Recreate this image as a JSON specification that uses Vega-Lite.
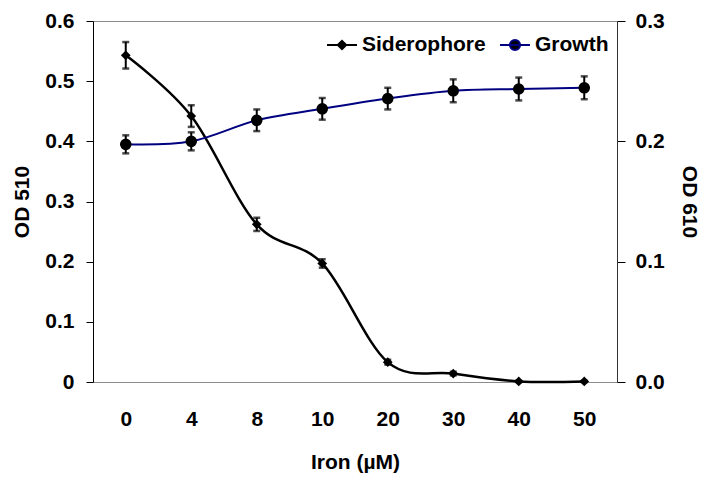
{
  "$schema": "https://vega.github.io/schema/vega-lite/v6.json",
  "width": 524,
  "height": 361,
  "autosize": {"type": "none"},
  "padding": {"left": 93, "top": 21, "right": 90, "bottom": 95},
  "datasets": {
    "sid": [
      {"iron": "0", "value": 0.543, "lo": 0.521, "hi": 0.565},
      {"iron": "4", "value": 0.442, "lo": 0.424, "hi": 0.460},
      {"iron": "8", "value": 0.262, "lo": 0.251, "hi": 0.273},
      {"iron": "10", "value": 0.197, "lo": 0.190, "hi": 0.204},
      {"iron": "20", "value": 0.033, "lo": 0.029, "hi": 0.037},
      {"iron": "30", "value": 0.014, "lo": 0.011, "hi": 0.017},
      {"iron": "40", "value": 0.001, "lo": 0.0, "hi": 0.002},
      {"iron": "50", "value": 0.001, "lo": 0.0, "hi": 0.002}
    ],
    "gro": [
      {"iron": "0", "value": 0.1975, "lo": 0.19, "hi": 0.205},
      {"iron": "4", "value": 0.2, "lo": 0.1925, "hi": 0.2075},
      {"iron": "8", "value": 0.2175, "lo": 0.2085, "hi": 0.2265},
      {"iron": "10", "value": 0.227, "lo": 0.218, "hi": 0.236},
      {"iron": "20", "value": 0.2355, "lo": 0.2265, "hi": 0.2445},
      {"iron": "30", "value": 0.242, "lo": 0.2325, "hi": 0.2515},
      {"iron": "40", "value": 0.2435, "lo": 0.234, "hi": 0.253},
      {"iron": "50", "value": 0.2445, "lo": 0.235, "hi": 0.254}
    ],
    "leg": [
      {"iron": "0", "series": "Siderophore", "value": -1},
      {"iron": "0", "series": "Growth", "value": -1}
    ]
  },
  "config": {
    "font": "Liberation Sans",
    "view": {"stroke": "#8c8c8c", "strokeWidth": 1},
    "axis": {
      "grid": false,
      "labelFont": "Liberation Sans",
      "labelFontWeight": "bold",
      "labelFontSize": 21,
      "labelColor": "black",
      "titleFont": "Liberation Sans",
      "titleFontWeight": "bold",
      "titleFontSize": 21,
      "titleColor": "black"
    },
    "legend": {
      "labelFont": "Liberation Sans",
      "labelFontWeight": "bold",
      "labelFontSize": 21,
      "labelColor": "black",
      "symbolFillColor": "black",
      "symbolStrokeWidth": 2,
      "symbolSize": 900,
      "padding": 0
    }
  },
  "encoding": {
    "x": {
      "field": "iron",
      "type": "ordinal",
      "sort": ["0", "4", "8", "10", "20", "30", "40", "50"],
      "scale": {"type": "point", "padding": 0.5},
      "axis": {
        "title": "Iron (µM)",
        "labelAngle": 0,
        "ticks": false,
        "tickSize": 0,
        "domainColor": "#8c8c8c",
        "labelPadding": 26,
        "titlePadding": 22
      }
    }
  },
  "layer": [
    {
      "data": {"name": "sid"},
      "encoding": {
        "y": {
          "field": "value",
          "type": "quantitative",
          "scale": {"domain": [0, 0.6], "nice": false},
          "axis": {
            "orient": "left",
            "title": "OD 510",
            "values": [0, 0.1, 0.2, 0.3, 0.4, 0.5, 0.6],
            "labelExpr": "datum.value == 0 ? '0' : format(datum.value, '.1f')",
            "domainColor": "black",
            "tickColor": "black",
            "tickSize": 7,
            "labelPadding": 12,
            "titlePadding": 12
          }
        }
      },
      "layer": [
        {"mark": {"type": "line", "interpolate": "cardinal", "color": "black", "strokeWidth": 2.5}},
        {"mark": {"type": "rule", "color": "black", "strokeWidth": 2}, "encoding": {"y": {"field": "lo", "type": "quantitative"}, "y2": {"field": "hi"}}},
        {"mark": {"type": "tick", "color": "black", "size": 7, "thickness": 2.5}, "encoding": {"y": {"field": "lo", "type": "quantitative"}}},
        {"mark": {"type": "tick", "color": "black", "size": 7, "thickness": 2.5}, "encoding": {"y": {"field": "hi", "type": "quantitative"}}},
        {"mark": {"type": "point", "shape": "diamond", "filled": true, "color": "black", "size": 95, "opacity": 1}}
      ]
    },
    {
      "data": {"name": "gro"},
      "encoding": {
        "y": {
          "field": "value",
          "type": "quantitative",
          "scale": {"domain": [0, 0.3], "nice": false},
          "axis": {
            "orient": "right",
            "title": "OD 610",
            "values": [0, 0.1, 0.2, 0.3],
            "format": ".1f",
            "domainColor": "#333333",
            "tickColor": "black",
            "tickSize": 8,
            "labelPadding": 10,
            "titlePadding": 14
          }
        }
      },
      "layer": [
        {"mark": {"type": "line", "interpolate": "cardinal", "color": "#000080", "strokeWidth": 2}},
        {"mark": {"type": "rule", "color": "black", "strokeWidth": 2}, "encoding": {"y": {"field": "lo", "type": "quantitative"}, "y2": {"field": "hi"}}},
        {"mark": {"type": "tick", "color": "black", "size": 7, "thickness": 2.5}, "encoding": {"y": {"field": "lo", "type": "quantitative"}}},
        {"mark": {"type": "tick", "color": "black", "size": 7, "thickness": 2.5}, "encoding": {"y": {"field": "hi", "type": "quantitative"}}},
        {"mark": {"type": "point", "shape": "circle", "filled": true, "color": "black", "size": 135, "opacity": 1}}
      ]
    },
    {
      "data": {"name": "leg"},
      "mark": {"type": "point", "filled": true, "clip": true, "size": 900, "opacity": 1},
      "encoding": {
        "y": {"field": "value", "type": "quantitative", "scale": {"domain": [0, 1]}, "axis": null},
        "shape": {
          "field": "series",
          "type": "nominal",
          "scale": {
            "domain": ["Siderophore", "Growth"],
            "range": [
              "M-1,0H1M-0.28,0L0,-0.28L0.28,0L0,0.28Z",
              "M-0.34,0A0.34,0.34,0,1,0,0.34,0A0.34,0.34,0,1,0,-0.34,0ZM-1,0H1"
            ]
          },
          "legend": {
            "title": null,
            "orient": "top-right",
            "direction": "horizontal",
            "offset": 8,
            "labelOffset": 4,
            "columnPadding": 10,
            "labelLimit": 300
          }
        },
        "fill": {
          "field": "series",
          "type": "nominal",
          "scale": {"domain": ["Siderophore", "Growth"], "range": ["black", "black"]},
          "legend": {
            "title": null,
            "orient": "top-right",
            "direction": "horizontal",
            "offset": 8,
            "labelOffset": 4,
            "columnPadding": 10,
            "labelLimit": 300
          }
        },
        "stroke": {
          "field": "series",
          "type": "nominal",
          "scale": {"domain": ["Siderophore", "Growth"], "range": ["black", "#000080"]},
          "legend": {
            "title": null,
            "orient": "top-right",
            "direction": "horizontal",
            "offset": 8,
            "labelOffset": 4,
            "columnPadding": 10,
            "labelLimit": 300
          }
        }
      }
    }
  ],
  "resolve": {"scale": {"y": "independent"}}
}
